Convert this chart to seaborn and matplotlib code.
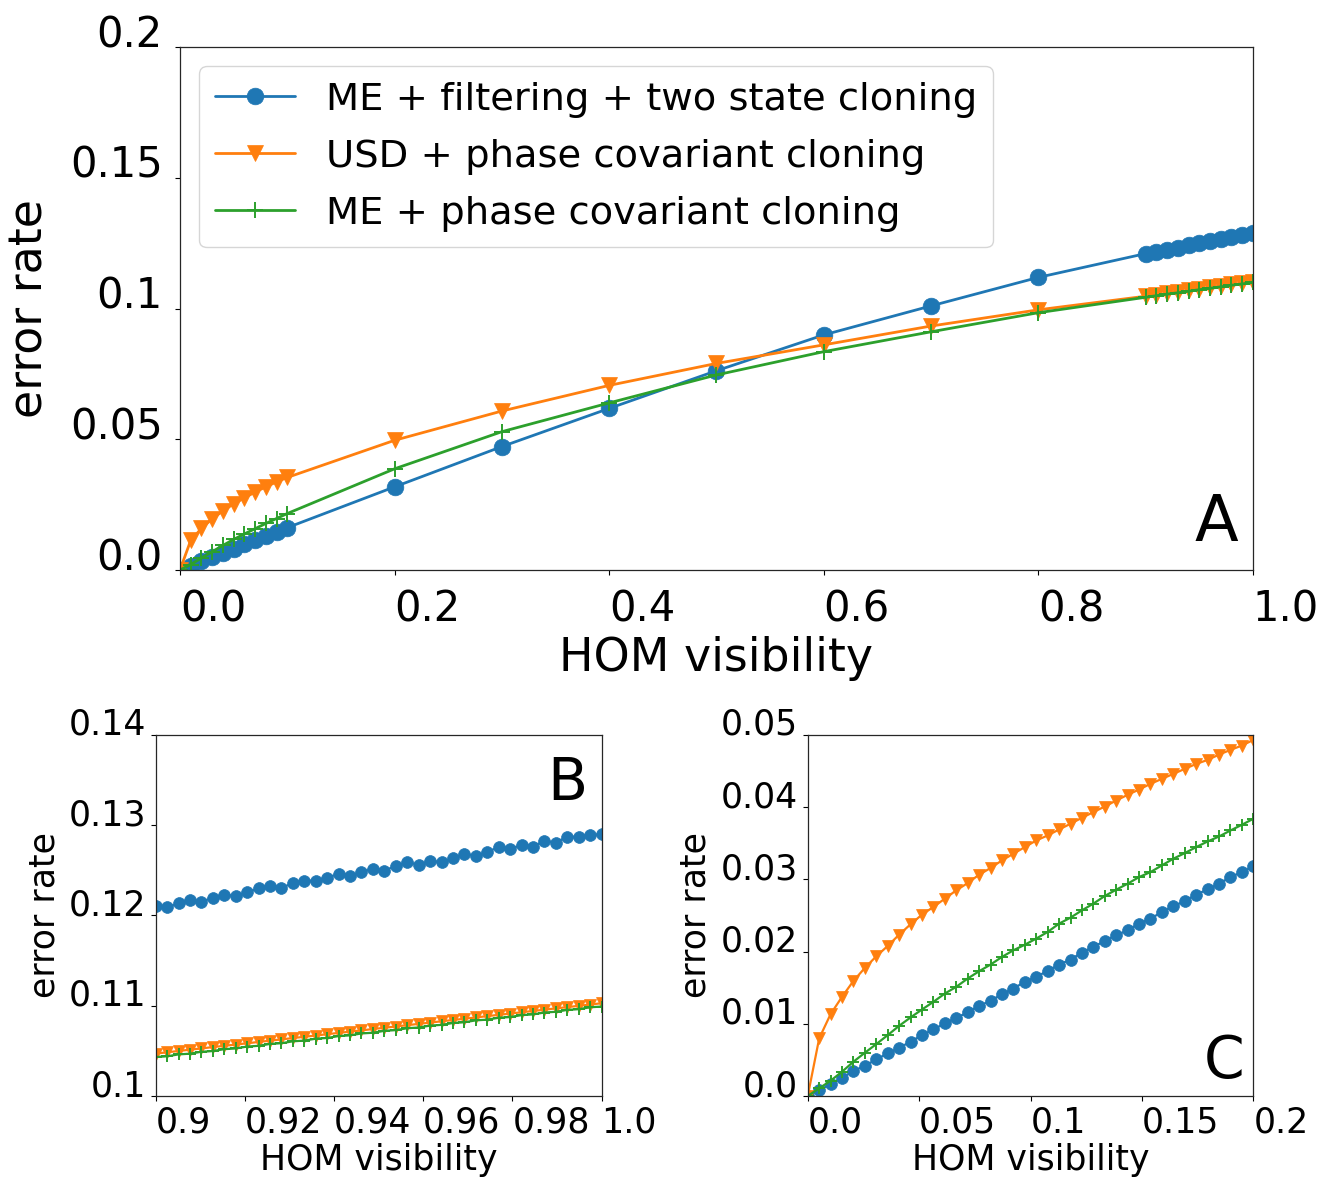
import numpy as np
import pandas as pd
import matplotlib
matplotlib.use("Agg")
import matplotlib.pyplot as plt
import seaborn as sns

sns.set_theme(style="ticks")
plt.rcParams['font.family'] = ['DejaVu Sans']
plt.rcParams['text.color'] = 'black'
plt.rcParams['axes.labelcolor'] = 'black'
plt.rcParams['xtick.color'] = 'black'
plt.rcParams['ytick.color'] = 'black'

# ---------------- data ----------------
labels_series = ["ME + filtering + two state cloning",
                 "USD + phase covariant cloning",
                 "ME + phase covariant cloning"]
colors = ["#1f77b4", "#ff7f0e", "#2ca02c"]

# Panel A
vis_a = [0.0, 0.01, 0.02, 0.03, 0.04, 0.05, 0.06, 0.07, 0.08, 0.09, 0.1,
         0.2, 0.3, 0.4, 0.5, 0.6, 0.7, 0.8,
         0.9, 0.91, 0.92, 0.93, 0.94, 0.95, 0.96, 0.97, 0.98, 0.99, 1.0]
blue_a = [0.0, 0.0016, 0.0034, 0.0050, 0.0066, 0.0082, 0.0098, 0.0114, 0.0130, 0.0146, 0.0162,
          0.0318, 0.0472, 0.0618, 0.0762, 0.0899, 0.1010, 0.1119,
          0.1210, 0.1216, 0.1225, 0.1233, 0.1243, 0.1251, 0.1258, 0.1267, 0.1274, 0.1281, 0.1290]
orange_a = [0.0, 0.0113, 0.0159, 0.0196, 0.0226, 0.0253, 0.0276, 0.0298, 0.0318, 0.0337, 0.0354,
            0.0496, 0.0608, 0.0706, 0.0790, 0.0861, 0.0933, 0.0995,
            0.1047, 0.1052, 0.1058, 0.1064, 0.1069, 0.1075, 0.1081, 0.1086, 0.1092, 0.1097, 0.1103]
green_a = [0.0, 0.0021, 0.0046, 0.0070, 0.0094, 0.0117, 0.0138, 0.0158, 0.0178, 0.0197, 0.0216,
           0.0387, 0.0529, 0.0639, 0.0746, 0.0835, 0.0911, 0.0984,
           0.1043, 0.1049, 0.1055, 0.1060, 0.1066, 0.1072, 0.1077, 0.1083, 0.1089, 0.1094, 0.1100]

# Panel B (visibility 0.9 .. 1.0, 40 samples)
vis_b = np.linspace(0.9, 1.0, 40)
blue_b = [0.12105, 0.12090, 0.12135, 0.12168, 0.12150, 0.12198, 0.12224, 0.12220, 0.12257, 0.12301,
          0.12327, 0.12308, 0.12356, 0.12386, 0.12386, 0.12419, 0.12460, 0.12441, 0.12482, 0.12517,
          0.12497, 0.12548, 0.12593, 0.12560, 0.12608, 0.12589, 0.12637, 0.12681, 0.12659, 0.12707,
          0.12755, 0.12733, 0.12785, 0.12763, 0.12825, 0.12807, 0.12873, 0.12873, 0.12888, 0.12903]
orange_b = [0.10470, 0.10484, 0.10499, 0.10513, 0.10527, 0.10542, 0.10556, 0.10570, 0.10584, 0.10599,
            0.10613, 0.10627, 0.10642, 0.10656, 0.10670, 0.10685, 0.10699, 0.10713, 0.10727, 0.10742,
            0.10756, 0.10770, 0.10785, 0.10799, 0.10813, 0.10828, 0.10842, 0.10856, 0.10870, 0.10885,
            0.10899, 0.10913, 0.10928, 0.10942, 0.10956, 0.10971, 0.10985, 0.10999, 0.11013, 0.11028]
green_b = [0.10432, 0.10440, 0.10461, 0.10469, 0.10490, 0.10498, 0.10519, 0.10527, 0.10548, 0.10556,
           0.10577, 0.10585, 0.10606, 0.10614, 0.10635, 0.10643, 0.10664, 0.10672, 0.10693, 0.10701,
           0.10722, 0.10730, 0.10751, 0.10759, 0.10780, 0.10788, 0.10809, 0.10817, 0.10838, 0.10846,
           0.10867, 0.10875, 0.10896, 0.10904, 0.10925, 0.10933, 0.10954, 0.10962, 0.10983, 0.10991]

# Panel C (visibility 0 .. 0.2, 40 samples)
vis_c = np.linspace(0.0, 0.2, 40)
blue_c = [0.0, 0.00083, 0.00161, 0.00253, 0.00346, 0.00419, 0.00507, 0.00590, 0.00668, 0.00751,
          0.00843, 0.00922, 0.01005, 0.01083, 0.01157, 0.01249, 0.01318, 0.01410, 0.01488, 0.01581,
          0.01650, 0.01733, 0.01820, 0.01889, 0.01986, 0.02065, 0.02147, 0.02226, 0.02295, 0.02387,
          0.02456, 0.02548, 0.02627, 0.02700, 0.02788, 0.02862, 0.02940, 0.03032, 0.03101, 0.03180]
orange_c = [0.0, 0.00797, 0.01134, 0.01373, 0.01594, 0.01774, 0.01935, 0.02078, 0.02235, 0.02378,
            0.02512, 0.02618, 0.02733, 0.02848, 0.02949, 0.03065, 0.03157, 0.03263, 0.03355, 0.03447,
            0.03539, 0.03608, 0.03691, 0.03770, 0.03853, 0.03931, 0.04009, 0.04092, 0.04171, 0.04244,
            0.04323, 0.04392, 0.04461, 0.04530, 0.04599, 0.04654, 0.04728, 0.04793, 0.04853, 0.04931]
green_c = [0.0, 0.00106, 0.00212, 0.00336, 0.00475, 0.00599, 0.00719, 0.00843, 0.00972, 0.01088,
           0.01198, 0.01304, 0.01419, 0.01512, 0.01627, 0.01728, 0.01820, 0.01926, 0.02018, 0.02095,
           0.02180, 0.02272, 0.02387, 0.02470, 0.02571, 0.02664, 0.02770, 0.02857, 0.02940, 0.03032,
           0.03101, 0.03194, 0.03286, 0.03364, 0.03447, 0.03525, 0.03594, 0.03677, 0.03756, 0.03839]

# ticks
xticks_a = [0.0, 0.2, 0.4, 0.6, 0.8, 1.0]
xticklabels_a = ["0.0", "0.2", "0.4", "0.6", "0.8", "1.0"]
yticks_a = [0.0, 0.05, 0.1, 0.15, 0.2]
yticklabels_a = ["0.0", "0.05", "0.1", "0.15", "0.2"]
xticks_b = [0.9, 0.92, 0.94, 0.96, 0.98, 1.0]
xticklabels_b = ["0.9", "0.92", "0.94", "0.96", "0.98", "1.0"]
yticks_b = [0.1, 0.11, 0.12, 0.13, 0.14]
yticklabels_b = ["0.1", "0.11", "0.12", "0.13", "0.14"]
xticks_c = [0.0, 0.05, 0.1, 0.15, 0.2]
xticklabels_c = ["0.0", "0.05", "0.1", "0.15", "0.2"]
yticks_c = [0.0, 0.01, 0.02, 0.03, 0.04, 0.05]
yticklabels_c = ["0.0", "0.01", "0.02", "0.03", "0.04", "0.05"]

# ---------------- figure ----------------
fig = plt.figure(figsize=(13.36, 11.78), dpi=100)
axA = fig.add_axes([0.1347, 0.5161, 0.8031, 0.4440])
axB = fig.add_axes([0.1165, 0.0696, 0.3338, 0.3065])
axC = fig.add_axes([0.6046, 0.0696, 0.3335, 0.3065])

markers = ["o", "v", "+"]


def draw(ax, x, ys, ms, lw, with_label):
    for y, c, m, lab in zip(ys, colors, markers, labels_series):
        df = pd.DataFrame({"vis": x, "err": y})
        kw = dict(color=c, marker=m, markersize=ms, mec=c,
                  mew=(1.4 if m == "+" else 0.5), linewidth=lw)
        if with_label:
            kw["label"] = lab
        sns.lineplot(data=df, x="vis", y="err", ax=ax, estimator=None,
                     errorbar=None, sort=False, legend=False, **kw)


draw(axA, vis_a, [blue_a, orange_a, green_a], 12, 2.0, True)
draw(axB, vis_b, [blue_b, orange_b, green_b], 8.5, 1.6, False)
draw(axC, vis_c, [blue_c, orange_c, green_c], 8.5, 1.6, False)


def style(ax, xt, xtl, yt, ytl, xlim, ylim, fs, pad_x, pad_y, lab_fs, xl_y, yl_x):
    ax.set_xlim(*xlim)
    ax.set_ylim(*ylim)
    ax.set_xticks(xt)
    ax.set_xticklabels(xtl, fontsize=fs, ha="left")
    ax.set_yticks(yt)
    ax.set_yticklabels(ytl, fontsize=fs, va="baseline")
    ax.tick_params(axis="x", pad=pad_x, length=3.5, width=0.8)
    ax.tick_params(axis="y", pad=pad_y, length=3.5, width=0.8)
    for t in ax.get_yticklabels():
        t.set_va("baseline")
    for s in ax.spines.values():
        s.set_visible(True)
        s.set_linewidth(0.9)
        s.set_color(".15")
    ax.set_xlabel("HOM visibility", fontsize=lab_fs)
    ax.set_ylabel("error rate", fontsize=lab_fs)
    ax.xaxis.set_label_coords(0.5, xl_y)
    ax.yaxis.set_label_coords(yl_x, 0.5)


style(axA, xticks_a, xticklabels_a, yticks_a, yticklabels_a, (0, 1), (0, 0.2),
      30, 10, 9, 33, -0.127, -0.119)
style(axB, xticks_b, xticklabels_b, yticks_b, yticklabels_b, (0.9, 1.0), (0.1, 0.14),
      25, 3, 3.5, 25, -0.13, -0.21)
style(axC, xticks_c, xticklabels_c, yticks_c, yticklabels_c, (0, 0.2), (0, 0.05),
      25, 3, 3.5, 25, -0.13, -0.213)

axA.text(0.986, 0.055, "A", transform=axA.transAxes, ha="right", va="baseline", fontsize=46)
axB.text(0.969, 0.82, "B", transform=axB.transAxes, ha="right", va="baseline", fontsize=42)
axC.text(0.981, 0.05, "C", transform=axC.transAxes, ha="right", va="baseline", fontsize=42)

axA.legend(loc="upper left", fontsize=27.7, handlelength=2.1, labelspacing=0.55,
           borderaxespad=0.5, frameon=True)

fig.savefig("out.png", dpi=100)
